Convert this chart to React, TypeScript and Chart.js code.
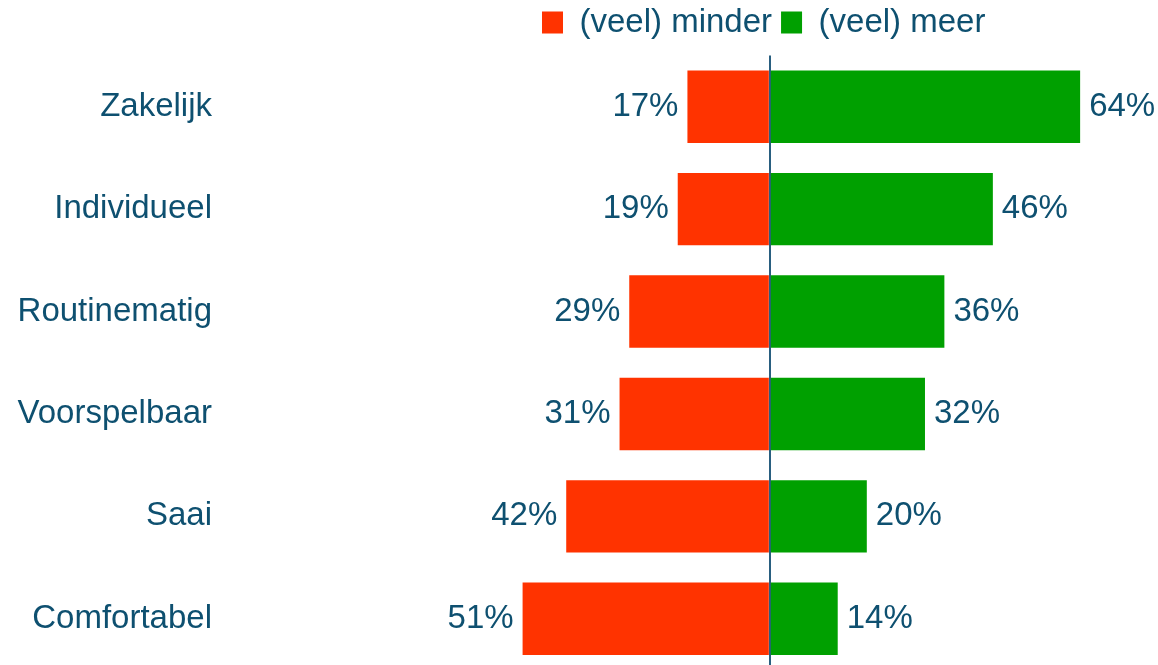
import React, { useEffect, useRef } from "react";
import { Chart, registerables } from "chart.js";

Chart.register(...registerables);

const categories = ["Zakelijk", "Individueel", "Routinematig", "Voorspelbaar", "Saai", "Comfortabel"];
const lessValues = [-17, -19, -29, -31, -42, -51];
const moreValues = [64, 46, 36, 32, 20, 14];
const seriesLabels = ["(veel) minder", "(veel) meer"];

const FONT = "'Liberation Sans', Arial, Helvetica, sans-serif";
const TEXT = "#0E5070";
const RED = "#FF3300";
const GREEN = "#00A000";
const LINE = "#295F80";
const FONT_SIZE = 33;
const LEGEND_BOX_LEFT = 542;
const LEGEND_TOP = -3;
const LABEL_OFFSET = 9;

const legendShift = {
  id: "legendShift",
  afterLayout(chart: any) {
    const lg = chart.legend;
    if (!lg || !lg.lineWidths) return;
    const pad = lg.options.labels.padding;
    const cursorX = (lg.left + pad + lg.right - lg.lineWidths[0]) / 2;
    const dx = LEGEND_BOX_LEFT - cursorX;
    lg.left += dx;
    lg.right += dx;
    const dy = LEGEND_TOP - lg.top;
    lg.top += dy;
    lg.bottom += dy;
  },
};

const valueLabels = {
  id: "valueLabels",
  afterDatasetsDraw(chart: any) {
    const ctx = chart.ctx;
    ctx.save();
    ctx.font = `${FONT_SIZE}px ${FONT}`;
    ctx.fillStyle = TEXT;
    ctx.textBaseline = "middle";
    chart.data.datasets.forEach((ds: any, di: number) => {
      const meta = chart.getDatasetMeta(di);
      meta.data.forEach((el: any, i: number) => {
        const v = ds.data[i] as number;
        const neg = v < 0;
        ctx.textAlign = neg ? "right" : "left";
        ctx.fillText(`${Math.abs(v)}%`, el.x + (neg ? -LABEL_OFFSET : LABEL_OFFSET), el.y);
      });
    });
    ctx.restore();
  },
};

export default function App() {
  const ref = useRef<HTMLCanvasElement | null>(null);

  useEffect(() => {
    if (!ref.current) return;
    const chart = new Chart(ref.current, {
      type: "bar",
      data: {
        labels: categories,
        datasets: [
          {
            label: seriesLabels[0],
            data: lessValues,
            backgroundColor: RED,
            borderWidth: 0,
            barPercentage: 0.707,
            categoryPercentage: 1,
          },
          {
            label: seriesLabels[1],
            data: moreValues,
            backgroundColor: GREEN,
            borderWidth: 0,
            barPercentage: 0.707,
            categoryPercentage: 1,
          },
        ],
      },
      options: {
        indexAxis: "y",
        responsive: false,
        animation: false,
        devicePixelRatio: 1,
        layout: { padding: { top: 3.5, right: 10, bottom: 0, left: 0 } },
        plugins: {
          legend: {
            position: "top",
            labels: {
              boxWidth: 21,
              boxHeight: 22,
              padding: 9,
              color: TEXT,
              font: { family: FONT, size: FONT_SIZE },
            },
          },
          tooltip: { enabled: false },
        },
        scales: {
          x: {
            stacked: true,
            min: -113,
            max: 78,
            z: 1,
            ticks: { display: false, stepSize: 50 },
            border: { display: false },
            grid: {
              drawTicks: false,
              lineWidth: 2,
              color: (c: any) => (c.tick && c.tick.value === 0 ? LINE : "rgba(0,0,0,0)"),
            },
          },
          y: {
            stacked: true,
            border: { display: false },
            grid: { display: false, drawTicks: false },
            ticks: {
              padding: 10,
              color: TEXT,
              font: { family: FONT, size: FONT_SIZE },
            },
            afterFit: (s: any) => {
              s.width = 222;
              s.paddingTop = 0;
              s.paddingBottom = 0;
            },
          },
        },
      },
      plugins: [legendShift, valueLabels],
    } as any);
    return () => chart.destroy();
  }, []);

  return (
    <div style={{ position: "fixed", left: 0, top: 0, width: 1158, height: 670, background: "#fff" }}>
      <canvas ref={ref} width={1158} height={670} style={{ display: "block" }} />
    </div>
  );
}
